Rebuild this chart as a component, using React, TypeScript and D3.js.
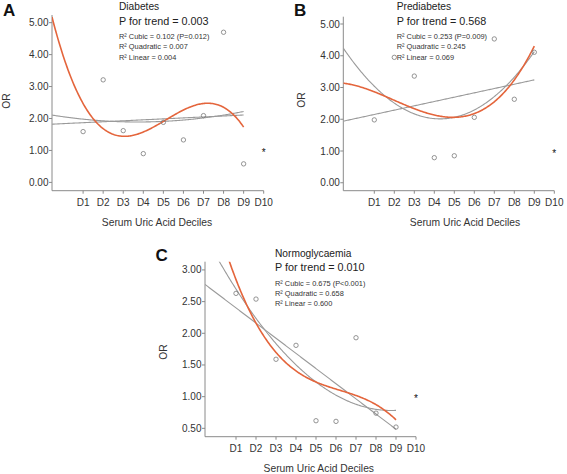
import React from "react";
import * as d3 from "d3";

const decileLabels = ["D1", "D2", "D3", "D4", "D5", "D6", "D7", "D8", "D9", "D10"];
const decilePositions = [1, 2, 3, 4, 5, 6, 7, 8, 9];
const diabetesOR = [1.59, 3.21, 1.62, 0.9, 1.88, 1.33, 2.09, 4.7, 0.58];
const prediabetesOR = [1.98, 3.95, 3.36, 0.79, 0.85, 2.06, 4.53, 2.63, 4.11];
const normoOR = [2.63, 2.54, 1.59, 1.81, 0.62, 0.61, 1.93, 0.74, 0.52];
const referenceOR = 1.0; // D10 reference group
const yTicksAB = [0, 1, 2, 3, 4, 5];
const yTicksC = [0.5, 1, 1.5, 2, 2.5, 3];

const RED = "#e4653c";
const GREY = "#9a9a9a";
const FONT = "'Liberation Sans', Arial, sans-serif";

function polyFit(xs: number[], ys: number[], deg: number): number[] {
  const n = deg + 1;
  const A: number[][] = [];
  for (let i = 0; i < n; i++) {
    A.push(new Array(n + 1).fill(0));
  }
  for (let k = 0; k < xs.length; k++) {
    for (let i = 0; i < n; i++) {
      for (let j = 0; j < n; j++) A[i][j] += Math.pow(xs[k], i + j);
      A[i][n] += ys[k] * Math.pow(xs[k], i);
    }
  }
  for (let c = 0; c < n; c++) {
    let p = c;
    for (let r = c + 1; r < n; r++) if (Math.abs(A[r][c]) > Math.abs(A[p][c])) p = r;
    [A[c], A[p]] = [A[p], A[c]];
    for (let r = 0; r < n; r++) {
      if (r === c) continue;
      const f = A[r][c] / A[c][c];
      for (let j = c; j <= n; j++) A[r][j] -= f * A[c][j];
    }
  }
  return A.map((row, i) => row[n] / row[i]);
}

type PanelProps = {
  id: string;
  letter: string;
  letterX: number;
  letterY: number;
  title: string;
  pTrend: string;
  r2: string[];
  textX: number;
  textY: number[];
  values: number[];
  yTicks: number[];
  yDomain: [number, number];
  xRange: [number, number];
  yRange: [number, number];
  orX: number;
  orY: number;
  xTitleX: number;
  xTitleY: number;
};

function Panel(p: PanelProps) {
  const x = d3.scaleLinear().domain([-0.55, 10]).range(p.xRange);
  const y = d3.scaleLinear().domain(p.yDomain).range(p.yRange);
  const [x0, x1] = p.xRange;
  const [yb, yt] = p.yRange;
  const samples = d3.range(-0.55, 9.0001, 0.05);
  const line = d3
    .line<[number, number]>()
    .x((d) => x(d[0]))
    .y((d) => y(d[1]));
  const curve = (deg: number) => {
    const c = polyFit(decilePositions, p.values, deg);
    const pts: [number, number][] = samples.map((t) => [t, c.reduce((s, ci, i) => s + ci * Math.pow(t, i), 0)]);
    return line(pts) || "";
  };
  const fmt = d3.format(".2f");
  return (
    <g>
      <defs>
        <clipPath id={"clip" + p.id}>
          <rect x={x0} y={yt} width={x1 - x0} height={yb - yt} />
        </clipPath>
      </defs>
      <text x={p.letterX} y={p.letterY} fontSize={17} fontWeight="bold" fontFamily={FONT} fill="#111">
        {p.letter}
      </text>
      <text x={p.textX} y={p.textY[0]} fontSize={10.2} fontFamily={FONT} fill="#222">
        {p.title}
      </text>
      <text x={p.textX} y={p.textY[1]} fontSize={10.8} fontFamily={FONT} fill="#222">
        {p.pTrend}
      </text>
      {p.r2.map((t, i) => (
        <text key={i} x={p.textX} y={p.textY[2 + i]} fontSize={7.4} fontFamily={FONT} fill="#333">
          {t}
        </text>
      ))}
      {/* axes */}
      <line x1={x0} x2={x0} y1={yt} y2={yb} stroke="#8a8a8a" strokeWidth={1} />
      <line x1={x0} x2={x1} y1={yb} y2={yb} stroke="#8a8a8a" strokeWidth={1} />
      {p.yTicks.map((t) => (
        <g key={t}>
          <line x1={x0 - 3} x2={x0} y1={y(t)} y2={y(t)} stroke="#8a8a8a" />
          <text x={x0 - 3.5} y={y(t)} dy="0.35em" textAnchor="end" fontSize={10} fontFamily={FONT} fill="#333">
            {fmt(t)}
          </text>
        </g>
      ))}
      {decileLabels.map((lab, i) => (
        <g key={lab}>
          <line x1={x(i + 1)} x2={x(i + 1)} y1={yb} y2={yb + 3} stroke="#8a8a8a" />
          <text x={x(i + 1)} y={yb + 15} textAnchor="middle" fontSize={10} fontFamily={FONT} fill="#333">
            {lab}
          </text>
        </g>
      ))}
      <text x={p.xTitleX} y={p.xTitleY} textAnchor="middle" fontSize={10.3} fontFamily={FONT} fill="#333">
        Serum Uric Acid Deciles
      </text>
      <text
        transform={`translate(${p.orX},${p.orY}) rotate(-90)`}
        textAnchor="middle"
        fontSize={10.3}
        fontFamily={FONT}
        fill="#333"
      >
        OR
      </text>
      <g clipPath={`url(#clip${p.id})`}>
        <path d={curve(1)} fill="none" stroke={GREY} strokeWidth={1.1} />
        <path d={curve(2)} fill="none" stroke={GREY} strokeWidth={1.1} />
        <path d={curve(3)} fill="none" stroke={RED} strokeWidth={1.6} />
      </g>
      {p.values.map((v, i) => (
        <circle key={i} cx={x(decilePositions[i])} cy={y(v)} r={2.2} fill="none" stroke="#7a7a7a" strokeWidth={0.8} />
      ))}
      <text x={x(10)} y={y(referenceOR) + 5.5} textAnchor="middle" fontSize={10} fontFamily={FONT} fill="#111">
        *
      </text>
    </g>
  );
}

export default function App() {
  return (
    <svg width={567} height={474} style={{ position: "absolute", left: 0, top: 0, background: "#fff" }}>
      <Panel
        id="A"
        letter="A"
        letterX={3}
        letterY={16}
        title="Diabetes"
        pTrend="P for trend = 0.003"
        r2={["R² Cubic = 0.102 (P=0.012)", "R² Quadratic = 0.007", "R² Linear = 0.004"]}
        textX={119}
        textY={[10, 25, 38.8, 49.3, 59.8]}
        values={diabetesOR}
        yTicks={yTicksAB}
        yDomain={[-0.26, 5.24]}
        xRange={[52, 263.7]}
        yRange={[190.7, 15]}
        orX={9.5}
        orY={101}
        xTitleX={157}
        xTitleY={226}
      />
      <Panel
        id="B"
        letter="B"
        letterX={294}
        letterY={16}
        title="Prediabetes"
        pTrend="P for trend = 0.568"
        r2={["R² Cubic = 0.253 (P=0.009)", "R² Quadratic = 0.245", "R² Linear = 0.069"]}
        textX={396.7}
        textY={[10, 25, 38.8, 49.3, 59.8]}
        values={prediabetesOR}
        yTicks={yTicksAB}
        yDomain={[-0.25, 5.23]}
        xRange={[343.3, 554.3]}
        yRange={[190.7, 16.7]}
        orX={304.5}
        orY={100}
        xTitleX={465}
        xTitleY={225.5}
      />
      <Panel
        id="C"
        letter="C"
        letterX={155.5}
        letterY={261}
        title="Normoglycaemia"
        pTrend="P for trend = 0.010"
        r2={["R² Cubic = 0.675 (P<0.001)", "R² Quadratic = 0.658", "R² Linear = 0.600"]}
        textX={275}
        textY={[257, 270.5, 285.5, 295.5, 306]}
        values={normoOR}
        yTicks={yTicksC}
        yDomain={[0.368, 3.13]}
        xRange={[205, 416]}
        yRange={[436.7, 261.7]}
        orX={167}
        orY={352}
        xTitleX={318.8}
        xTitleY={472}
      />
    </svg>
  );
}
